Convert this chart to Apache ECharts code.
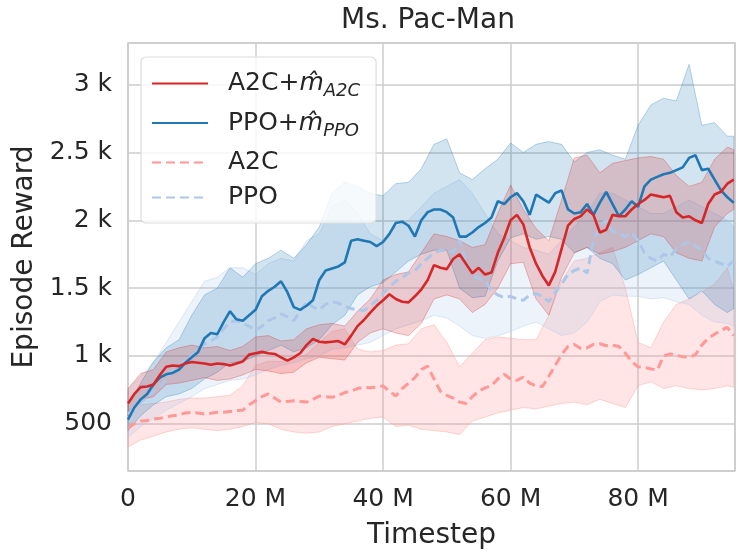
<!DOCTYPE html>
<html>
<head>
    <meta charset="utf-8">
    <title>Ms. Pac-Man</title>
    <style>
        html, body { margin: 0; padding: 0; background: #fff; }
        #main { width: 747px; height: 560px; }
    </style>
</head>
<body>
    <div id="main"></div>
    <script src="https://cdn.jsdelivr.net/npm/echarts@6/dist/echarts.min.js"></script>
    <script>
    // timestep in millions, one point per 1 M
    var steps = [0,1,2,3,4,5,6,7,8,9,10,11,12,13,14,15,16,17,18,19,
        20,21,22,23,24,25,26,27,28,29,30,31,32,33,34,35,36,37,38,39,
        40,41,42,43,44,45,46,47,48,49,50,51,52,53,54,55,56,57,58,59,
        60,61,62,63,64,65,66,67,68,69,70,71,72,73,74,75,76,77,78,79,
        80,81,82,83,84,85,86,87,88,89,90,91,92,93,94,95];

    // mean episode reward
    var a2cModel = [650,720,770,775,790,860,920,930,925,945,
        955,950,945,935,945,940,930,945,960,1010,
        1020,1030,1020,1015,990,965,990,1020,1080,1125,
        1105,1100,1105,1110,1085,1150,1220,1265,1320,1370,
        1410,1455,1420,1400,1395,1440,1490,1560,1670,1650,
        1640,1715,1750,1680,1610,1650,1600,1615,1760,1870,
        2000,2040,1970,1800,1680,1590,1520,1620,1790,1960,
        2010,2030,2080,2040,1910,1930,2040,2030,2030,2080,
        2120,2150,2190,2180,2170,2180,2060,2020,2030,2000,
        1980,2120,2190,2210,2270,2300];
    var ppoModel = [530,620,680,720,790,840,865,875,900,950,
        990,1030,1130,1170,1160,1250,1330,1270,1260,1300,
        1340,1440,1480,1510,1550,1470,1360,1340,1370,1410,
        1560,1630,1645,1660,1690,1850,1860,1850,1840,1810,
        1840,1900,1980,1990,1960,1880,2000,2060,2080,2080,
        2060,2020,1880,1880,1910,1950,1980,2020,2140,2120,
        2170,2200,2140,2040,2190,2160,2130,2200,2220,2080,
        2050,2060,2120,2040,2130,2210,2120,2030,2080,2140,
        2100,2250,2300,2320,2340,2350,2370,2390,2460,2480,
        2370,2380,2300,2220,2170,2130];
    var a2cBase = [470,500,520,525,535,540,550,560,565,580,
        585,580,572,578,585,585,590,597,600,640,
        670,700,720,690,660,665,670,665,660,680,
        705,700,695,710,730,740,760,770,765,770,
        780,740,705,760,800,840,900,925,830,740,
        710,690,660,650,700,740,765,780,830,865,
        830,820,845,800,780,775,850,930,1010,1070,
        1085,1055,1060,1085,1090,1075,1080,1070,1020,960,
        920,915,905,895,1000,1015,1005,995,990,1010,
        1080,1130,1160,1190,1210,1150];
    var ppoBase = [570,620,660,700,740,770,830,890,930,970,
        1000,1040,1090,1110,1140,1200,1250,1260,1240,1220,
        1190,1220,1260,1280,1310,1290,1260,1330,1400,1360,
        1340,1380,1400,1390,1365,1350,1340,1335,1370,1410,
        1460,1510,1550,1580,1610,1630,1680,1720,1760,1780,
        1775,1765,1850,1700,1600,1570,1560,1480,1450,1430,
        1440,1420,1410,1450,1460,1440,1400,1470,1530,1600,
        1630,1650,1610,1850,1960,2000,1920,1900,1880,1910,
        1850,1760,1720,1700,1750,1730,1790,1820,1840,1810,
        1780,1720,1700,1680,1660,1700];

    // spread bands, one point per 2 M
    var bandSteps = [0,2,4,6,8,10,12,14,16,18,20,22,24,26,28,30,32,34,36,38,
        40,42,44,46,48,50,52,54,56,58,60,62,64,66,68,70,72,74,76,78,
        80,82,84,86,88,90,92,94,95];
    var a2cModelLo = [560,680,700,790,800,820,840,820,830,860,900,890,870,880,950,990,980,970,1100,1170,
        1200,1170,1150,1240,1420,1450,1420,1320,1380,1500,1680,1690,1420,1300,1580,1760,1800,1750,1770,1800,
        1850,1900,1880,1760,1720,1700,1950,2050,2080];
    var a2cModelHi = [760,870,900,1030,1060,1080,1060,1070,1040,1070,1140,1150,1110,1120,1200,1230,1240,1220,1330,1420,
        1560,1600,1620,1760,1900,1880,1850,1800,1820,2050,2260,2080,1940,1850,2150,2460,2480,2350,2420,2440,
        2460,2470,2450,2330,2250,2280,2450,2540,2520];
    var ppoModelLo = [450,560,640,700,720,760,830,880,950,960,1000,1040,1080,1030,1060,1120,1230,1300,1450,1510,
        1540,1620,1700,1750,1780,1780,1500,1430,1440,1700,1870,1900,1860,1880,1860,1760,1800,1720,1680,1560,
        1600,1650,1700,1560,1420,1480,1380,1320,1350];
    var ppoModelHi = [640,800,960,1060,1120,1300,1450,1500,1650,1580,1680,1720,1780,1720,1820,1950,2200,2280,2250,2200,
        2180,2270,2280,2380,2560,2600,2350,2300,2380,2450,2570,2500,2560,2580,2560,2430,2500,2520,2480,2450,
        2700,2850,2900,2880,3150,2700,2720,2620,2620];
    var a2cBaseLo = [330,380,410,440,460,470,460,450,460,480,510,500,460,440,430,440,480,500,520,540,
        550,480,490,460,450,440,420,520,550,580,600,620,610,630,650,660,640,680,650,620,
        780,810,760,780,760,750,760,780,770];
    var a2cBaseHi = [600,640,650,660,680,690,690,700,710,780,930,960,960,980,1010,1100,1180,1200,1050,1030,
        1040,1080,1090,1200,1230,1100,920,1020,1120,1140,1130,1120,1120,1300,1550,1700,1720,1760,1800,1500,
        1100,1060,1250,1380,1420,1470,1530,1650,1480];
    var ppoBaseLo = [400,480,540,600,650,700,760,790,820,830,860,900,930,950,980,1000,1050,1060,1080,1100,
        1150,1200,1230,1260,1300,1280,1220,1150,1130,1150,1180,1220,1250,1200,1150,1170,1250,1400,1450,1440,
        1440,1420,1430,1400,1380,1300,1250,1240,1220];
    var ppoBaseHi = [750,850,950,1100,1250,1400,1550,1580,1650,1650,1600,1680,1720,1700,1850,1900,2100,2150,2050,1900,
        1850,1950,2000,2100,2200,2250,2300,2200,2050,1900,1850,1800,1780,1750,1850,1950,2050,2200,2200,2150,
        2100,2050,2050,2100,2150,2100,2050,2000,1950];

    var names = ['A2C+m_A2C', 'PPO+m_PPO', 'A2C', 'PPO'];
    var font = 'DejaVu Sans';
    var ink = '#262626';

    function pairs(xs, ys) {
        return xs.map(function (x, i) { return [x, ys[i]]; });
    }

    // shaded spread: one polygon, upper edge forward then lower edge back
    function band(lo, hi, fill, edge) {
        return {
            type: 'custom', silent: true,
            data: bandSteps.map(function (x, i) { return [x, lo[i], hi[i]]; }),
            encode: { x: 0, y: [1, 2] },
            renderItem: function (params, api) {
                if (params.dataIndex !== 0) return null;
                var pts = [];
                for (var i = 0; i < bandSteps.length; i++) pts.push(api.coord([bandSteps[i], hi[i]]));
                for (var j = bandSteps.length - 1; j >= 0; j--) pts.push(api.coord([bandSteps[j], lo[j]]));
                return {
                    type: 'polygon',
                    shape: { points: pts },
                    style: { fill: fill, stroke: edge, lineWidth: 1 }
                };
            }
        };
    }

    function line(name, ys, color, dashed) {
        return {
            name: name, type: 'line', symbol: 'none', silent: true,
            data: pairs(steps, ys), color: color,
            lineStyle: { width: dashed ? 3 : 2.6, color: color, type: dashed ? [9, 5] : 'solid' }
        };
    }

    var myChart = echarts.init(document.getElementById('main'));
    var option = {
        animation: false,
        backgroundColor: '#ffffff',
        textStyle: { fontFamily: font },
        title: {
            text: 'Ms. Pac-Man',
            left: 341, top: 7, padding: 0,
            textStyle: { fontFamily: font, fontSize: 28, fontWeight: 'normal', color: ink }
        },
        grid: {
            left: 128, right: 12, top: 43, bottom: 89,
            show: true, borderColor: '#cccccc', borderWidth: 1.5
        },
        legend: {
            data: names,
            orient: 'vertical',
            left: 141, top: 57,
            padding: [14, 16, 13, 10],
            itemGap: 10,
            itemWidth: 56, itemHeight: 14,
            itemStyle: { color: 'rgba(0,0,0,0)', borderColor: 'rgba(0,0,0,0)', borderWidth: 0 },
            backgroundColor: 'rgba(255,255,255,0.8)',
            borderColor: '#dddddd', borderWidth: 1.2, borderRadius: 5,
            formatter: function (name) {
                if (name === names[0]) return '{t|A2C+}{m|m\u0302}{s|A2C}';
                if (name === names[1]) return '{t|PPO+}{m|m\u0302}{s|PPO}';
                return '{p|' + name + '}';
            },
            textStyle: {
                padding: [0, 0, 0, 15],
                rich: {
                    t: { fontFamily: font, fontSize: 25, color: ink, lineHeight: 34 },
                    m: { fontFamily: font, fontSize: 25, color: ink, fontStyle: 'italic', lineHeight: 34 },
                    s: { fontFamily: font, fontSize: 18, color: ink, fontStyle: 'italic', lineHeight: 24, verticalAlign: 'bottom' },
                    p: { fontFamily: font, fontSize: 25, color: ink, lineHeight: 28 }
                }
            }
        },
        xAxis: {
            type: 'value',
            min: 0, max: 95.2, interval: 20,
            name: 'Timestep',
            nameLocation: 'middle', nameGap: 51,
            nameTextStyle: { fontFamily: font, fontSize: 28, color: ink },
            axisLine: { show: false },
            axisTick: { show: false },
            axisLabel: {
                fontFamily: font, fontSize: 25, color: ink, margin: 16,
                showMaxLabel: false,
                formatter: function (v) { return v === 0 ? '0' : v + ' M'; }
            },
            splitLine: { show: true, lineStyle: { color: '#cccccc', width: 1.5 } }
        },
        yAxis: {
            type: 'value',
            min: 152, max: 3307,
            name: 'Episode Reward',
            nameLocation: 'middle', nameGap: 84,
            nameTextStyle: { fontFamily: font, fontSize: 28, color: ink },
            axisLine: { show: false },
            axisTick: { show: false },
            axisLabel: {
                fontFamily: font, fontSize: 25, color: ink, margin: 16,
                showMinLabel: false, showMaxLabel: false,
                formatter: function (v) { return v >= 1000 ? (v / 1000) + ' k' : String(v); }
            },
            splitLine: { show: true, lineStyle: { color: '#cccccc', width: 1.5 } }
        },
        series: [
            band(a2cBaseLo, a2cBaseHi, 'rgba(255,152,150,0.25)', 'rgba(255,152,150,0.4)'),
            band(ppoBaseLo, ppoBaseHi, 'rgba(174,199,232,0.22)', 'rgba(174,199,232,0.4)'),
            band(ppoModelLo, ppoModelHi, 'rgba(31,119,180,0.2)', 'rgba(31,119,180,0.3)'),
            band(a2cModelLo, a2cModelHi, 'rgba(214,39,40,0.2)', 'rgba(214,39,40,0.3)'),
            line(names[2], a2cBase, '#ff9896', true),
            line(names[3], ppoBase, '#aec7e8', true),
            line(names[1], ppoModel, '#1f77b4', false),
            line(names[0], a2cModel, '#d62728', false)
        ]
    };
    myChart.setOption(option);
    </script>
</body>
</html>
